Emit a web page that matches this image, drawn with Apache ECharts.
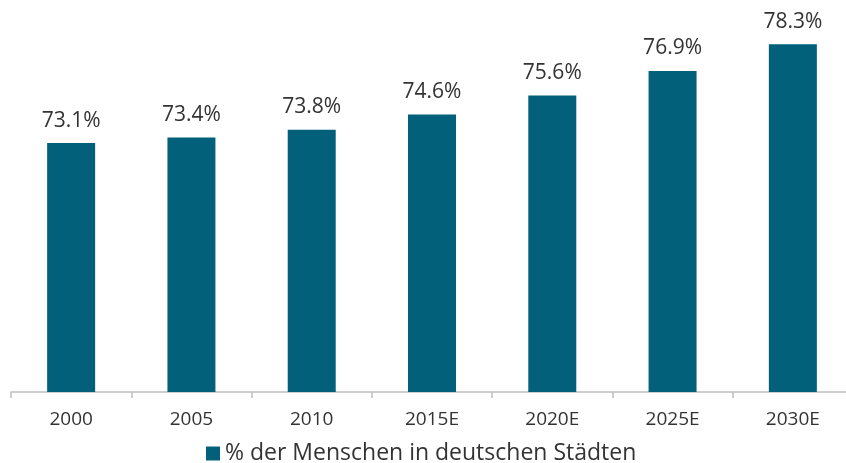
<!DOCTYPE html>
<html>
<head>
<meta charset="utf-8">
<script src="https://cdn.jsdelivr.net/npm/echarts@6/dist/echarts.min.js"></script>
<style>
html,body{margin:0;padding:0;background:#fff;overflow:hidden;width:846px;height:463px;}
#c{width:860px;height:463px;}
</style>
</head>
<body>
<div id="c"></div>
<script>
const categories = ["2000", "2005", "2010", "2015E", "2020E", "2025E", "2030E"];
const values = [73.1, 73.4, 73.8, 74.6, 75.6, 76.9, 78.3];
const seriesName = "% der Menschen in deutschen Städten";

const FONT = "'Open Sans', 'Noto Sans', sans-serif";
const chart = echarts.init(document.getElementById('c'), null, {renderer: 'canvas'});
chart.setOption({
  animation: false,
  grid: {left: 11, right: 7, top: 12, bottom: 71, containLabel: false},
  legend: {
    top: 437,
    left: 201,
    itemWidth: 14,
    itemHeight: 14,
    icon: 'rect',
    textStyle: {fontFamily: FONT, fontSize: 23, color: '#333333'},
    data: [seriesName]
  },
  xAxis: {
    type: 'category',
    data: categories,
    boundaryGap: true,
    axisLine: {lineStyle: {color: '#bfbfbf', width: 1.5}},
    axisTick: {show: true, length: 6, lineStyle: {color: '#bfbfbf', width: 1.5}},
    axisLabel: {fontFamily: FONT, fontSize: 19, color: '#333333', margin: 18}
  },
  yAxis: {
    type: 'value',
    min: 60,
    max: 80,
    show: false,
    splitLine: {show: false}
  },
  series: [{
    name: seriesName,
    type: 'bar',
    data: values,
    barWidth: 48,
    itemStyle: {color: '#02607b'},
    label: {
      show: true,
      position: 'top',
      distance: 12,
      fontFamily: FONT,
      fontSize: 21,
      color: '#333333',
      formatter: p => p.value.toFixed(1) + '%'
    }
  }]
});
</script>
</body>
</html>
